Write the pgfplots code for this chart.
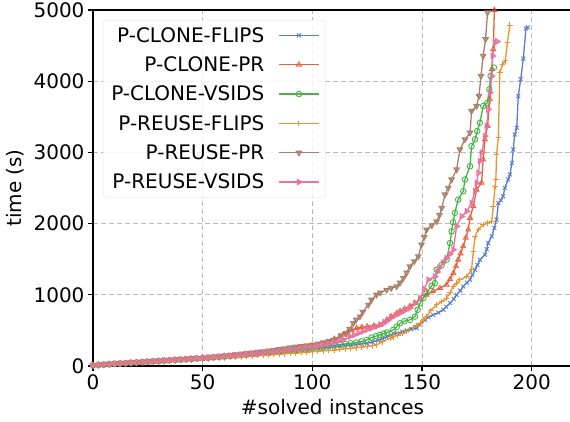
\documentclass[border=0pt]{standalone}
\usepackage{fontspec}
\setmainfont{DejaVu Sans}
\usepackage{pgfplots}
\pgfplotsset{compat=1.18}

\definecolor{cblue}{RGB}{90,125,200}
\definecolor{cred}{RGB}{230,95,60}
\definecolor{cgreen}{RGB}{70,180,70}
\definecolor{corange}{RGB}{240,145,45}
\definecolor{cbrown}{RGB}{168,128,106}
\definecolor{cpink}{RGB}{232,116,159}

\newcommand{\bigf}{\fontsize{20}{24}\selectfont}

\begin{document}
\begin{tikzpicture}
\begin{axis}[
    at={(0pt,0pt)}, anchor=south west,
    scale only axis,
    width=479pt, height=356pt,
    xmin=0, xmax=218.4,
    ymin=0, ymax=5000,
    xtick={0,50,100,150,200},
    ytick={0,1000,2000,3000,4000,5000},
    axis line style={line width=1.4pt, black},
    tick align=outside,
    major tick length=5pt,
    tick style={line width=1.2pt, black},
    xtick pos=bottom, ytick pos=left,
    grid=major,
    major grid style={dashed, gray!55, line width=0.8pt, dash pattern=on 5pt off 3pt},
    ticklabel style={font=\bigf},
    /pgf/number format/assume math mode=true,
    /pgf/number format/1000 sep={},
    xlabel={\#solved instances},
    ylabel={time (s)},
    label style={font=\bigf},
    xlabel style={yshift=-3pt},
    ylabel style={yshift=3pt},
    every axis plot/.append style={line width=1.3pt, mark size=2.8pt, mark options={solid, line width=0.9pt, fill=none}},
    legend cell align=right,
    legend plot pos=right,
    legend image code/.code={\draw[line width=1.3pt, mark repeat=2, mark phase=2] plot coordinates {(0pt,0pt)(20pt,0pt)(40pt,0pt)};},
    legend style={at={(0.021,0.972)}, anchor=north west, font=\bigf,
        draw=gray!25, rounded corners=3pt, fill=white, fill opacity=0.8, text opacity=1, draw opacity=1,
        row sep=9pt, column sep=12pt, inner xsep=6pt, inner ysep=5pt},
]
\addplot[color=cblue, mark=x] coordinates {
(0,8)(2.5,12)(5,17)(7.5,22)(10,27)(12.5,31)(15,36)(17.5,40)(20,45)(22.5,50)(25,55)(27.5,60)(30,65)(32.5,70)(35,74)(37.5,79)(40,84)(42.5,89)(45,94)(47.5,99)(50,104)(52.5,110)(55,115)(57.5,120)(60,126)(62.5,132)(65,138)(67.5,144)(70,150)(72.5,156)(75,163)(77.5,170)(80,176)(82.5,183)(85,190)(87.5,197)(90,205)(92.5,213)(95,222)(97.5,231)(100,240)(102.5,248)(105,255)(107.5,262)(110,270)(112.5,278)(115,285)(117.5,292)(120,300)(122.5,310)(125,320)(127.5,340)(130,360)(132,385)(134,410)(136,435)(138.5,460)(141,480)(143,500)(145,515)(147.6,531)(149,580)(151.4,648)(153,685)(155.1,718)(157.5,750)(159.7,789)(161,830)(162.8,883)(164.5,940)(165.8,1000)(167.5,1060)(168.8,1117)(170.5,1170)(171.9,1211)(173,1280)(174.2,1352)(175.3,1420)(176.4,1492)(178.7,1563)(179.5,1640)(180.2,1727)(181.8,1821)(183,1940)(184,2056)(184.8,2290)(186,2330)(187,2384)(187.8,2502)(189.3,2619)(190.1,2689)(191,2850)(191.6,3041)(192.3,3252)(193.2,3346)(193.9,3792)(195,4027)(196.2,4318)(197.4,4741)(198.2,4755)
};
\addlegendentry{P-CLONE-FLIPS}
\addplot[color=cred, mark=triangle] coordinates {
(0,10)(2.5,15)(5,20)(7.5,25)(10,30)(12.5,35)(15,40)(17.5,45)(20,50)(22.5,55)(25,60)(27.5,65)(30,70)(32.5,75)(35,80)(37.5,85)(40,90)(42.5,95)(45,100)(47.5,105)(50,110)(52.5,116)(55,122)(57.5,128)(60,135)(62.5,142)(65,150)(67.5,157)(70,165)(72.5,172)(75,180)(77.5,187)(80,195)(82.5,203)(85,212)(87.5,221)(90,230)(92.5,240)(95,250)(97.5,260)(100,270)(102.5,285)(105,300)(107.5,330)(110,380)(112.6,413)(114,440)(116,470)(118,500)(120.2,531)(122.5,545)(125,555)(128,565)(130.8,577)(132.5,610)(134,650)(136,695)(138.5,742)(140,770)(142,800)(144.5,840)(146.8,883)(149.5,940)(152.1,1000)(155,1050)(158.2,1094)(161.2,1140)(162.8,1220)(164.3,1305)(165.5,1400)(166.5,1492)(167.6,1580)(168.8,1680)(170,1800)(171.1,1915)(171.9,2080)(173.4,2243)(174.9,2478)(177.2,2572)(177.9,2900)(178.7,3182)(179.9,3369)(181,3745)(181.8,4168)(182.5,4449)(183,5000)
};
\addlegendentry{P-CLONE-PR}
\addplot[color=cgreen, mark=o] coordinates {
(0,10)(2.5,15)(5,20)(7.5,25)(10,30)(12.5,35)(15,40)(17.5,45)(20,50)(22.5,55)(25,60)(27.5,65)(30,70)(32.5,75)(35,80)(37.5,85)(40,90)(42.5,95)(45,100)(47.5,105)(50,110)(52.5,115)(55,120)(57.5,126)(60,132)(62.5,138)(65,145)(67.5,151)(70,158)(72.5,165)(75,172)(77.5,180)(80,187)(82.5,195)(85,203)(87.5,211)(90,220)(92.5,227)(95,235)(97.5,242)(100,250)(102.5,260)(105,270)(107.5,280)(110,290)(112.5,300)(115,310)(117.5,320)(120,330)(122.5,345)(124.8,366)(127,400)(129,420)(130.8,436)(132.5,455)(134,470)(136.9,507)(138.5,550)(140,601)(142,630)(144.5,648)(146.8,694)(148,790)(149.1,883)(150.6,955)(152.1,1024)(154.4,1126)(155.9,1164)(156.7,1352)(159,1420)(161.2,1492)(162.8,1727)(163.5,1891)(164.2,2020)(165,2150)(166.5,2337)(168.8,2454)(169.6,2619)(171.9,2806)(172.6,3088)(174.2,3182)(175.2,3299)(176.4,3417)(177.9,3651)(179.8,3698)(180.7,3886)(181.3,4073)(182.8,4191)
};
\addlegendentry{P-CLONE-VSIDS}
\addplot[color=corange, mark=+] coordinates {
(0,8)(2.5,12)(5,16)(7.5,20)(10,25)(12.5,29)(15,33)(17.5,37)(20,42)(22.5,46)(25,50)(27.5,55)(30,60)(32.5,64)(35,68)(37.5,72)(40,77)(42.5,81)(45,86)(47.5,90)(50,95)(52.5,100)(55,105)(57.5,110)(60,115)(62.5,120)(65,125)(67.5,130)(70,135)(72.5,140)(75,145)(77.5,150)(80,155)(82.5,160)(85,165)(87.5,171)(90,177)(92.5,182)(95,188)(97.5,194)(100,200)(102.5,206)(105,212)(107.5,218)(110,225)(112.5,232)(115,240)(117.5,247)(120,255)(122.5,265)(125,275)(127.5,285)(129.3,296)(132,340)(135.4,390)(137,410)(139,435)(141,460)(143,483)(146,540)(147.5,570)(149.1,601)(150.6,650)(152.1,694)(154,780)(156.7,859)(159,905)(161.2,953)(162.8,1030)(164.3,1117)(165.8,1165)(167.3,1211)(170.4,1258)(172.6,1352)(173.4,1610)(174.2,1821)(175.7,1915)(177.9,1985)(180,2010)(181.8,2032)(182.5,2243)(183.3,2525)(183.7,2619)(184,2971)(184.8,3206)(185.5,4121)(186.8,4238)(188,4285)(188.9,4543)(190.1,4787)
};
\addlegendentry{P-REUSE-FLIPS}
\addplot[color=cbrown, mark=triangle, mark options={rotate=180}] coordinates {
(0,10)(2.5,16)(5,22)(7.5,28)(10,35)(12.5,40)(15,45)(17.5,50)(20,55)(22.5,60)(25,65)(27.5,70)(30,75)(32.5,80)(35,85)(37.5,90)(40,95)(42.5,100)(45,105)(47.5,110)(50,115)(52.5,122)(55,130)(57.5,137)(60,145)(62.5,153)(65,162)(67.5,171)(70,180)(72.5,188)(75,197)(77.5,206)(80,215)(82.5,226)(85,237)(87.5,248)(90,260)(92.5,270)(95,280)(97.5,290)(100,300)(102.5,315)(105,330)(107.5,348)(109.6,366)(111,380)(113,430)(115.6,460)(117,520)(118.7,601)(120,650)(121.7,694)(123,760)(125.5,859)(127,930)(129.3,1000)(131,1030)(133.9,1070)(136,1095)(138.5,1117)(140,1170)(141.5,1235)(143,1310)(144.5,1398)(146.5,1470)(148.3,1539)(149.8,1704)(151,1810)(152.1,1915)(154.5,1975)(156.7,2032)(158,2120)(159,2220)(160.5,2408)(162,2502)(163.5,2619)(165.8,2760)(167.3,3041)(169.6,3182)(171.9,3276)(172.6,3581)(174.9,3651)(176,3792)(176.9,4073)(177.9,4355)(179,4590)(179.9,4966)
};
\addlegendentry{P-REUSE-PR}
\addplot[color=cpink, mark=triangle, mark options={rotate=-90}] coordinates {
(0,10)(2.5,15)(5,20)(7.5,26)(10,32)(12.5,37)(15,42)(17.5,47)(20,52)(22.5,57)(25,62)(27.5,67)(30,72)(32.5,77)(35,82)(37.5,87)(40,92)(42.5,97)(45,102)(47.5,107)(50,112)(52.5,118)(55,124)(57.5,130)(60,137)(62.5,143)(65,150)(67.5,157)(70,165)(72.5,172)(75,180)(77.5,188)(80,196)(82.5,204)(85,213)(87.5,221)(90,230)(92.5,238)(95,247)(97.5,256)(100,265)(102.5,280)(105,295)(107.5,312)(110,330)(112,350)(114,370)(117.2,413)(119,435)(121,460)(123,485)(125,510)(127,530)(129.3,554)(131,580)(133,610)(134.5,645)(136,680)(138,710)(140,742)(142,775)(144.5,812)(146.8,880)(149.1,953)(151,1080)(152.9,1211)(155.9,1258)(157,1320)(158,1380)(159.6,1450)(161.2,1516)(162.8,1575)(164.3,1633)(165.8,1961)(168.1,2102)(170.4,2173)(172.6,2290)(174.2,2454)(174.9,2572)(175.7,2712)(176.4,2877)(177.2,2995)(178.7,3229)(179.5,3369)(180.2,3604)(181,3839)(181.8,4073)(182.2,4355)(183.3,4543)(184.3,4557)
};
\addlegendentry{P-REUSE-VSIDS}
\end{axis}
\pgfresetboundingbox
\path[use as bounding box] (-93pt,-56pt) rectangle (477pt,366pt);
\end{tikzpicture}
\end{document}
